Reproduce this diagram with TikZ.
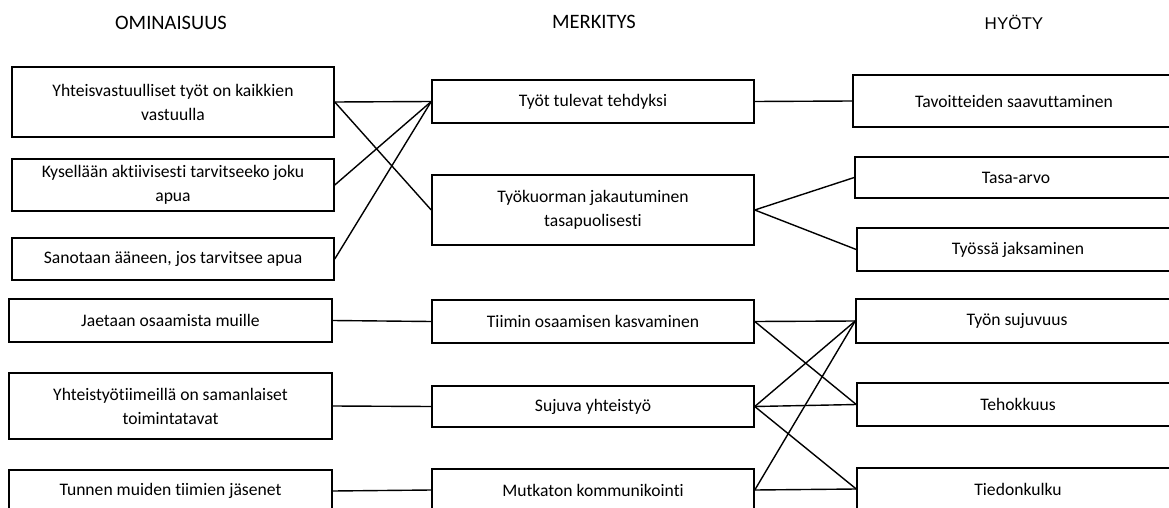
\documentclass[tikz,border=0pt]{standalone}
\usepackage{fontspec}
\setmainfont{Carlito}[Ligatures=NoCommon]
\newfontfamily\arialfont{Liberation Sans}
\newcommand\diagbody{\fontsize{17.6}{24}\selectfont}
\newcommand\diaghead{\fontsize{20.5}{24}\selectfont}
\begin{document}
\begin{tikzpicture}[x=1pt,y=-1pt,
  box/.style={draw, line width=1.5pt, rectangle, inner sep=0pt, align=center, font=\diagbody},
  link/.style={line width=1.4pt},
  head/.style={inner sep=0pt, font=\diaghead}]
\useasboundingbox (0,0) rectangle (1169,508);
\clip (0,0) rectangle (1169,508);

% column headings
\node[head] (h1) at (171,23) {OMINAISUUS};
\node[head] (h2) at (594,22) {MERKITYS};
\node[head, font=\arialfont\fontsize{17}{20}\selectfont] (h3) at (1014,22) {HYÖTY};

% properties
\node[box, minimum width=322, minimum height=70] (l1) at (173,102) {Yhteisvastuulliset työt on kaikkien\\vastuulla};
\node[box, minimum width=322, minimum height=52] (l2) at (173,185) {Kysellään aktiivisesti tarvitseeko joku\\apua};
\node[box, minimum width=322, minimum height=42] (l3) at (173,259) {Sanotaan ääneen, jos tarvitsee apua};
\node[box, minimum width=323, minimum height=43] (l4) at (170.5,320.5) {Jaetaan osaamista muille};
\node[box, minimum width=323, minimum height=66] (l5) at (170.5,406) {Yhteistyötiimeillä on samanlaiset\\toimintatavat};
\node[box, minimum width=323, minimum height=42] (l6) at (170.5,491) {Tunnen muiden tiimien jäsenet};

% meanings
\node[box, minimum width=322, minimum height=43] (m1) at (593,101.5) {Työt tulevat tehdyksi};
\node[box, minimum width=322, minimum height=70] (m2) at (593,210) {Työkuorman jakautuminen\\tasapuolisesti};
\node[box, minimum width=322, minimum height=43] (m3) at (593,321.5) {Tiimin osaamisen kasvaminen};
\node[box, minimum width=322, minimum height=41] (m4) at (593,406.5) {Sujuva yhteistyö};
\node[box, minimum width=322, minimum height=42] (m5) at (593,490) {Mutkaton kommunikointi};

% benefits
\node[box, minimum width=322, minimum height=52] (r1) at (1014,101) {Tavoitteiden saavuttaminen};
\node[box, minimum width=322, minimum height=41] (r2) at (1016,177.5) {Tasa-arvo};
\node[box, minimum width=322, minimum height=43] (r3) at (1018,249.5) {Työssä jaksaminen};
\node[box, minimum width=322, minimum height=44] (r4) at (1017,321) {Työn sujuvuus};
\node[box, minimum width=322, minimum height=43] (r5) at (1018,404.5) {Tehokkuus};
\node[box, minimum width=322, minimum height=42] (r6) at (1018,489) {Tiedonkulku};

% properties to meanings
\draw[link] (l1.east) -- (m1.west);
\draw[link] (l1.east) -- (m2.west);
\draw[link] (l2.east) -- (m1.west);
\draw[link] (l3.east) -- (m1.west);
\draw[link] (l4.east) -- (m3.west);
\draw[link] (l5.east) -- (m4.west);
\draw[link] (l6.east) -- (m5.west);

% meanings to benefits
\draw[link] (m1.east) -- (r1.west);
\draw[link] (m2.east) -- (r2.west);
\draw[link] (m2.east) -- (r3.west);
\draw[link] (m3.east) -- (r4.west);
\draw[link] (m3.east) -- (r5.west);
\draw[link] (m4.east) -- (r4.west);
\draw[link] (m4.east) -- (r5.west);
\draw[link] (m4.east) -- (r6.west);
\draw[link] (m5.east) -- (r4.west);
\draw[link] (m5.east) -- (r6.west);
\end{tikzpicture}
\end{document}
